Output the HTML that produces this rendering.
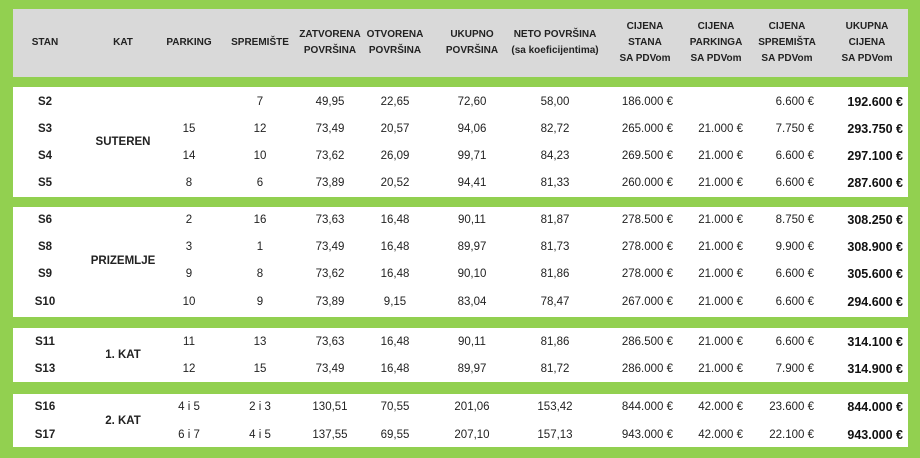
<!DOCTYPE html>
<html><head><meta charset="utf-8"><style>
body{margin:0;width:920px;height:458px;background:#92d050;position:relative;overflow:hidden;font-family:"Liberation Sans",sans-serif;color:#222;font-size:11.5px}
.p{position:absolute;left:13px;width:895px}
.h{background:#d9d9d9;top:9px;height:68px}
.w{background:#fff}
.c{position:absolute;transform:translate(-50%,-50%);white-space:nowrap;text-align:center}
.r{position:absolute;transform:translateY(-50%);white-space:nowrap;text-align:right}
.hd{font-weight:bold;font-size:10px;line-height:16px;color:#222}
.b{font-weight:bold}
.t{font-weight:bold;font-size:12.5px;color:#111}
</style></head><body>
<div class="p h"></div>
<div class="p w" style="top:87px;height:110px"></div>
<div class="p w" style="top:207px;height:110px"></div>
<div class="p w" style="top:328px;height:54px"></div>
<div class="p w" style="top:394px;height:53px"></div>

<div class="c hd" style="left:45px;top:43px">STAN</div>
<div class="c hd" style="left:123px;top:43px">KAT</div>
<div class="c hd" style="left:189px;top:43px">PARKING</div>
<div class="c hd" style="left:260px;top:43px">SPREMIŠTE</div>
<div class="c hd" style="left:330px;top:43px">ZATVORENA<br>POVRŠINA</div>
<div class="c hd" style="left:395px;top:43px">OTVORENA<br>POVRŠINA</div>
<div class="c hd" style="left:472px;top:43px">UKUPNO<br>POVRŠINA</div>
<div class="c hd" style="left:555px;top:43px">NETO POVRŠINA<br>(sa koeficijentima)</div>
<div class="c hd" style="left:645px;top:43px">CIJENA<br>STANA<br>SA PDVom</div>
<div class="c hd" style="left:716px;top:43px">CIJENA<br>PARKINGA<br>SA PDVom</div>
<div class="c hd" style="left:787px;top:43px">CIJENA<br>SPREMIŠTA<br>SA PDVom</div>
<div class="c hd" style="left:867px;top:43px">UKUPNA<br>CIJENA<br>SA PDVom</div>

<div class="c b" style="left:123px;top:142px">SUTEREN</div>
<div class="c b" style="left:123px;top:261px">PRIZEMLJE</div>
<div class="c b" style="left:123px;top:355px">1. KAT</div>
<div class="c b" style="left:123px;top:421px">2. KAT</div>

<div class="c b" style="left:45px;top:102px">S2</div><div class="c" style="left:260px;top:102px">7</div><div class="c" style="left:330px;top:102px">49,95</div><div class="c" style="left:395px;top:102px">22,65</div><div class="c" style="left:472px;top:102px">72,60</div><div class="c" style="left:555px;top:102px">58,00</div><div class="r" style="right:247px;top:102px">186.000 €</div><div class="r" style="right:106px;top:102px">6.600 €</div><div class="r t" style="right:17px;top:102px">192.600 €</div>

<div class="c b" style="left:45px;top:129px">S3</div><div class="c" style="left:189px;top:129px">15</div><div class="c" style="left:260px;top:129px">12</div><div class="c" style="left:330px;top:129px">73,49</div><div class="c" style="left:395px;top:129px">20,57</div><div class="c" style="left:472px;top:129px">94,06</div><div class="c" style="left:555px;top:129px">82,72</div><div class="r" style="right:247px;top:129px">265.000 €</div><div class="r" style="right:177px;top:129px">21.000 €</div><div class="r" style="right:106px;top:129px">7.750 €</div><div class="r t" style="right:17px;top:129px">293.750 €</div>

<div class="c b" style="left:45px;top:156px">S4</div><div class="c" style="left:189px;top:156px">14</div><div class="c" style="left:260px;top:156px">10</div><div class="c" style="left:330px;top:156px">73,62</div><div class="c" style="left:395px;top:156px">26,09</div><div class="c" style="left:472px;top:156px">99,71</div><div class="c" style="left:555px;top:156px">84,23</div><div class="r" style="right:247px;top:156px">269.500 €</div><div class="r" style="right:177px;top:156px">21.000 €</div><div class="r" style="right:106px;top:156px">6.600 €</div><div class="r t" style="right:17px;top:156px">297.100 €</div>

<div class="c b" style="left:45px;top:183px">S5</div><div class="c" style="left:189px;top:183px">8</div><div class="c" style="left:260px;top:183px">6</div><div class="c" style="left:330px;top:183px">73,89</div><div class="c" style="left:395px;top:183px">20,52</div><div class="c" style="left:472px;top:183px">94,41</div><div class="c" style="left:555px;top:183px">81,33</div><div class="r" style="right:247px;top:183px">260.000 €</div><div class="r" style="right:177px;top:183px">21.000 €</div><div class="r" style="right:106px;top:183px">6.600 €</div><div class="r t" style="right:17px;top:183px">287.600 €</div>

<div class="c b" style="left:45px;top:220px">S6</div><div class="c" style="left:189px;top:220px">2</div><div class="c" style="left:260px;top:220px">16</div><div class="c" style="left:330px;top:220px">73,63</div><div class="c" style="left:395px;top:220px">16,48</div><div class="c" style="left:472px;top:220px">90,11</div><div class="c" style="left:555px;top:220px">81,87</div><div class="r" style="right:247px;top:220px">278.500 €</div><div class="r" style="right:177px;top:220px">21.000 €</div><div class="r" style="right:106px;top:220px">8.750 €</div><div class="r t" style="right:17px;top:220px">308.250 €</div>

<div class="c b" style="left:45px;top:247px">S8</div><div class="c" style="left:189px;top:247px">3</div><div class="c" style="left:260px;top:247px">1</div><div class="c" style="left:330px;top:247px">73,49</div><div class="c" style="left:395px;top:247px">16,48</div><div class="c" style="left:472px;top:247px">89,97</div><div class="c" style="left:555px;top:247px">81,73</div><div class="r" style="right:247px;top:247px">278.000 €</div><div class="r" style="right:177px;top:247px">21.000 €</div><div class="r" style="right:106px;top:247px">9.900 €</div><div class="r t" style="right:17px;top:247px">308.900 €</div>

<div class="c b" style="left:45px;top:274px">S9</div><div class="c" style="left:189px;top:274px">9</div><div class="c" style="left:260px;top:274px">8</div><div class="c" style="left:330px;top:274px">73,62</div><div class="c" style="left:395px;top:274px">16,48</div><div class="c" style="left:472px;top:274px">90,10</div><div class="c" style="left:555px;top:274px">81,86</div><div class="r" style="right:247px;top:274px">278.000 €</div><div class="r" style="right:177px;top:274px">21.000 €</div><div class="r" style="right:106px;top:274px">6.600 €</div><div class="r t" style="right:17px;top:274px">305.600 €</div>

<div class="c b" style="left:45px;top:302px">S10</div><div class="c" style="left:189px;top:302px">10</div><div class="c" style="left:260px;top:302px">9</div><div class="c" style="left:330px;top:302px">73,89</div><div class="c" style="left:395px;top:302px">9,15</div><div class="c" style="left:472px;top:302px">83,04</div><div class="c" style="left:555px;top:302px">78,47</div><div class="r" style="right:247px;top:302px">267.000 €</div><div class="r" style="right:177px;top:302px">21.000 €</div><div class="r" style="right:106px;top:302px">6.600 €</div><div class="r t" style="right:17px;top:302px">294.600 €</div>

<div class="c b" style="left:45px;top:342px">S11</div><div class="c" style="left:189px;top:342px">11</div><div class="c" style="left:260px;top:342px">13</div><div class="c" style="left:330px;top:342px">73,63</div><div class="c" style="left:395px;top:342px">16,48</div><div class="c" style="left:472px;top:342px">90,11</div><div class="c" style="left:555px;top:342px">81,86</div><div class="r" style="right:247px;top:342px">286.500 €</div><div class="r" style="right:177px;top:342px">21.000 €</div><div class="r" style="right:106px;top:342px">6.600 €</div><div class="r t" style="right:17px;top:342px">314.100 €</div>

<div class="c b" style="left:45px;top:369px">S13</div><div class="c" style="left:189px;top:369px">12</div><div class="c" style="left:260px;top:369px">15</div><div class="c" style="left:330px;top:369px">73,49</div><div class="c" style="left:395px;top:369px">16,48</div><div class="c" style="left:472px;top:369px">89,97</div><div class="c" style="left:555px;top:369px">81,72</div><div class="r" style="right:247px;top:369px">286.000 €</div><div class="r" style="right:177px;top:369px">21.000 €</div><div class="r" style="right:106px;top:369px">7.900 €</div><div class="r t" style="right:17px;top:369px">314.900 €</div>

<div class="c b" style="left:45px;top:407px">S16</div><div class="c" style="left:189px;top:407px">4 i 5</div><div class="c" style="left:260px;top:407px">2 i 3</div><div class="c" style="left:330px;top:407px">130,51</div><div class="c" style="left:395px;top:407px">70,55</div><div class="c" style="left:472px;top:407px">201,06</div><div class="c" style="left:555px;top:407px">153,42</div><div class="r" style="right:247px;top:407px">844.000 €</div><div class="r" style="right:177px;top:407px">42.000 €</div><div class="r" style="right:106px;top:407px">23.600 €</div><div class="r t" style="right:17px;top:407px">844.000 €</div>

<div class="c b" style="left:45px;top:435px">S17</div><div class="c" style="left:189px;top:435px">6 i 7</div><div class="c" style="left:260px;top:435px">4 i 5</div><div class="c" style="left:330px;top:435px">137,55</div><div class="c" style="left:395px;top:435px">69,55</div><div class="c" style="left:472px;top:435px">207,10</div><div class="c" style="left:555px;top:435px">157,13</div><div class="r" style="right:247px;top:435px">943.000 €</div><div class="r" style="right:177px;top:435px">42.000 €</div><div class="r" style="right:106px;top:435px">22.100 €</div><div class="r t" style="right:17px;top:435px">943.000 €</div>
</body></html>
